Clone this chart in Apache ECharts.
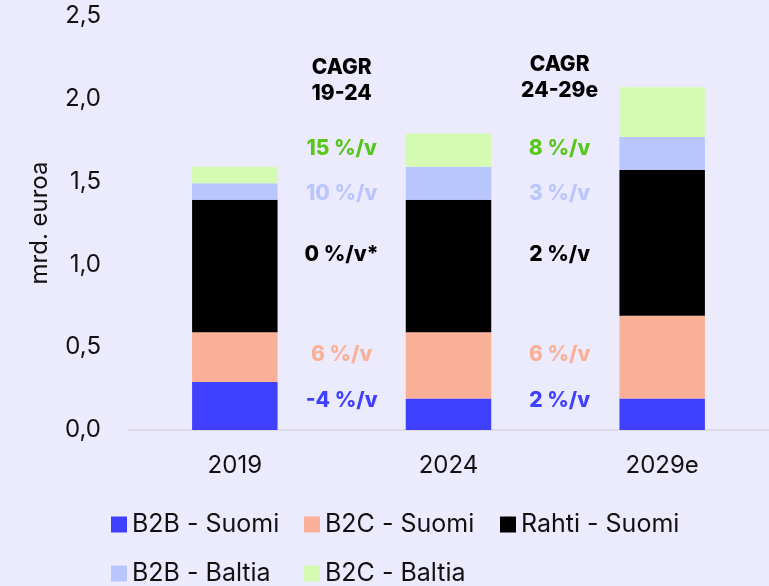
<!DOCTYPE html>
<html>
<head>
<meta charset="utf-8">
<script src="https://cdn.jsdelivr.net/npm/echarts@6/dist/echarts.min.js"></script>
<style>
  html, body { margin: 0; padding: 0; background: #ecebfe; }
  #chart { width: 769px; height: 586px; }
</style>
</head>
<body>
<div id="chart"></div>
<script>
// values (mrd. euroa)
const categories = ['2019', '2024', '2029e'];
const b2bSuomi = [0.29, 0.19, 0.19];
const b2cSuomi = [0.30, 0.40, 0.50];
const rahtiSuomi = [0.80, 0.80, 0.88];
const b2bBaltia = [0.10, 0.20, 0.20];
const b2cBaltia = [0.10, 0.20, 0.30];

// CAGR annotations, one per segment (bottom -> top)
const cagrHeaders = ['CAGR\n19-24', 'CAGR\n24-29e'];
const cagr1924 = ['-4 %/v', '6 %/v', '0 %/v*', '10 %/v', '15 %/v'];
const cagr2429 = ['2 %/v', '6 %/v', '2 %/v', '3 %/v', '8 %/v'];
const cagrRowY = [0.178, 0.453, 1.058, 1.425, 1.696];
const cagrHeaderY = [2.11, 2.13];
const cagrColX = [1.0, 2.02];

const colors = ['#4040ff', '#f9b096', '#000000', '#b9c6fe', '#d5fbb3'];
const textColors = ['#4040ff', '#f9b096', '#000000', '#b9c6fe', '#58c71c'];
const names = ['B2B - Suomi', 'B2C - Suomi', 'Rahti - Suomi', 'B2B - Baltia', 'B2C - Baltia'];
const values = [b2bSuomi, b2cSuomi, rahtiSuomi, b2bBaltia, b2cBaltia];

const chart = echarts.init(document.getElementById('chart'));

const fontReg = 'Inter, Liberation Sans, sans-serif';
const fontBold = 'Inter, Liberation Sans, sans-serif';

const barSeries = names.map((n, i) => ({
  name: n,
  type: 'bar',
  stack: 'total',
  barWidth: '40%',
  itemStyle: { color: colors[i] },
  data: values[i]
}));

const annoData = [];
cagrHeaders.forEach((t, c) => {
  annoData.push({ value: [cagrColX[c], cagrHeaderY[c]], label: { formatter: t, color: '#000' } });
});
[cagr1924, cagr2429].forEach((col, c) => {
  col.forEach((t, r) => {
    annoData.push({ value: [cagrColX[c], cagrRowY[r]], label: { formatter: t, color: textColors[r] } });
  });
});

const legendBase = {
  orient: 'vertical',
  top: 512,
  height: 120,
  padding: 0,
  itemWidth: 16,
  itemHeight: 16,
  itemGap: 24,
  icon: 'rect',
  selectedMode: false,
  textStyle: { fontSize: 25, lineHeight: 25, fontFamily: fontReg, color: '#111' }
};

const option = {
  backgroundColor: '#ecebfe',
  animation: false,
  grid: { left: 128, right: 0, top: 16, bottom: 156 },
  legend: [
    Object.assign({}, legendBase, { left: 111, data: [names[0], names[3]] }),
    Object.assign({}, legendBase, { left: 304, data: [names[1], names[4]] }),
    Object.assign({}, legendBase, { left: 500, data: [names[2]] })
  ],
  xAxis: [
    {
      type: 'category',
      data: categories,
      axisLine: { lineStyle: { color: '#d6d6e0', width: 1.5 } },
      axisTick: { show: false },
      axisLabel: { fontSize: 24, fontFamily: fontReg, color: '#111', margin: 24 }
    },
    { type: 'value', min: 0, max: 3, show: false }
  ],
  yAxis: {
    type: 'value',
    min: 0,
    max: 2.5,
    interval: 0.5,
    name: 'mrd. euroa',
    nameLocation: 'middle',
    nameGap: 76,
    nameTextStyle: { fontSize: 24, fontFamily: fontReg, color: '#111' },
    axisLine: { show: false },
    axisTick: { show: false },
    splitLine: { show: false },
    axisLabel: {
      fontSize: 24,
      fontFamily: fontReg,
      color: '#111',
      margin: 27,
      formatter: (v) => v.toFixed(1).replace('.', ',')
    }
  },
  series: barSeries.concat([{
    type: 'scatter',
    xAxisIndex: 1,
    symbolSize: 1,
    itemStyle: { color: 'rgba(0,0,0,0)' },
    label: {
      show: true,
      position: 'inside',
      fontSize: 21,
      fontWeight: 800,
      fontFamily: fontBold,
      lineHeight: 26,
      align: 'center',
      textBorderWidth: 0,
      opacity: 1
    },
    data: annoData,
    silent: true
  }])
};

chart.setOption(option);
</script>
</body>
</html>
